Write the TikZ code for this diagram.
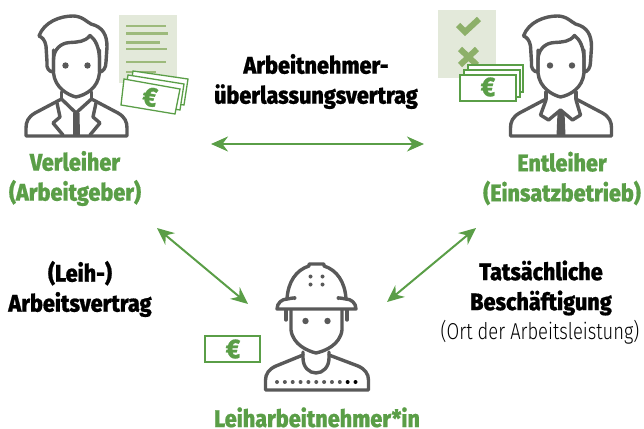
\documentclass[tikz,border=0pt]{standalone}
\usepackage{fontspec}
\setmainfont{Fira Sans}[FakeStretch=0.9,BoldFont={Fira Sans ExtraBold},BoldFeatures={FakeStretch=0.9,FakeBold=0.7}]
\newfontfamily\lightcond{Fira Sans Light}[FakeStretch=0.8]
\usetikzlibrary{arrows.meta}
\definecolor{grn}{HTML}{5A9E47}
\definecolor{gry}{HTML}{595959}
\definecolor{pale}{HTML}{E3E9DA}
\definecolor{mid}{HTML}{9DBA7C}
\definecolor{markcol}{HTML}{8DB069}
\tikzset{
  ln/.style={draw=gry,line width=3.4pt,line join=round,line cap=round},
  billbox/.style={draw=grn,line width=1.3pt,fill=white},
  arr/.style={draw=grn,line width=2pt,{Stealth[length=17pt,width=15pt]}-{Stealth[length=17pt,width=15pt]}},
  lab/.style={font=\fontsize{24}{30}\selectfont\bfseries,align=center,text=black,inner sep=0pt},
  glab/.style={lab,text=grn},
  euro/.style={font=\fontsize{27}{27}\selectfont\bfseries,text=grn,inner sep=0pt},
  doclines/.style={draw=mid,line width=2.8pt},
  eye/.style={fill=gry,draw=none}
}
\newcommand{\headface}{
  \draw[ln] (53.5,50) -- (53.5,73) .. controls (55,88) and (68,95) .. (76,97) .. controls (86,95) and (98,88) .. (99.5,73) -- (99.5,50);
  \fill[eye] (65.5,65.5) circle (3.2pt) (87.5,65.5) circle (3.2pt);
}
\newcommand{\hairbody}{
  \draw[ln] (39,36) .. controls (44,22) and (60,16) .. (73,16) .. controls (82,16) and (87,22) .. (91,24) .. controls (103,27) and (107,35) .. (107,47) -- (106,62)
     .. controls (106,68) and (103,72) .. (99.5,72) -- (99.5,58) .. controls (99,48) and (96,40) .. (90,35.5) .. controls (85,42) and (78,42) .. (70,42.5) .. controls (60,43) and (53.5,50) .. (53.5,60) -- (53.5,72)
     .. controls (49,72) and (46,68) .. (47,62) -- (46,46) .. controls (45,40) and (42,37) .. (39,36) -- cycle;
  \draw[ln] (61.5,92) -- (61.5,99) (91.5,92) -- (91.5,99);
  \draw[ln] (61.5,99) -- (35,113) .. controls (28,117) and (26,122) .. (26,128) -- (26,136) -- (127,136) -- (127,128) .. controls (127,122) and (125,117) .. (118,113) -- (91.5,99);
}
\begin{document}
\begin{tikzpicture}[x=1pt,y=-1pt]
\useasboundingbox (0,0) rectangle (644,428);
% Left person
\begin{scope}
  \headface \hairbody
  \draw[ln] (61.5,99) -- (76,113) -- (91.5,99);
  \draw[ln] (57,103) -- (60,117) -- (53,123) -- (63,135);
  \draw[ln] (96,103) -- (93,117) -- (100,123) -- (90,135);
  \fill[gry] (73,113) -- (79.5,113) -- (80,136) -- (73,136) -- cycle;
\end{scope}
% Left document
\fill[pale] (119,15) rectangle (177,83);
\draw[doclines] (126,26) -- (166,26) (126,33.5) -- (168,33.5) (126,42.5) -- (160,42.5) (126,49) -- (167,49) (126,62) -- (166,62) (126,72) -- (156,72);
% Left bills
\draw[billbox] (133,71) -- (188,79) -- (184,105) -- (129,97) -- cycle;
\draw[billbox] (128,75) -- (184,84) -- (180,110) -- (124,101) -- cycle;
\draw[billbox] (124,79) -- (180,89) -- (175,114) -- (121,105) -- cycle;
\node[euro,rotate=-9] (euroA) at (150,97) {€};
% Right person
\begin{scope}[xshift=484.5pt]
  \headface \hairbody
  \draw[ln,fill=white] (61.5,100) -- (56,115) -- (64,120) -- (76,110) -- (88,120) -- (96,115) -- (91.5,100);
  \fill[gry] (73,112) -- (80,112) -- (81,136) -- (72,136) -- cycle;
\end{scope}
% Right panel
\fill[pale] (438,10) rectangle (496,78);
\draw[markcol,line width=6pt,line join=miter] (458,25) -- (465,32) -- (479,19);
\draw[markcol,line width=6pt] (460,49) -- (477,65) (477,49) -- (460,65);
\draw[billbox] (468,65) rectangle (523,92);
\draw[billbox] (464,70) rectangle (520,97);
\draw[billbox] (460,75) rectangle (516,101);
\node[euro] (euroB) at (488,87) {€};
% Worker
\draw[ln] (291,310) -- (291,330) .. controls (293,345) and (308,351) .. (316,353) .. controls (325,351) and (340,345) .. (342,330) -- (342,310);
\fill[eye] (305.5,321) circle (3.2pt) (327.5,321) circle (3.2pt);
\draw[ln] (286,309) -- (286,320) (347,309) -- (347,320);
\draw[ln,fill=white] (277,309) .. controls (277,303) and (282,299) .. (287,299) .. controls (288,282) and (296,270) .. (309,266) -- (309,264) -- (324,264) -- (324,266) .. controls (337,270) and (345,282) .. (346,299) .. controls (351,299) and (356,303) .. (356,309) -- cycle;
\draw[ln] (287,299) -- (293,298) (340,298) -- (346,299);
\fill[eye] (310.5,276.5) circle (2pt) (322.5,276.5) circle (2pt) (310.5,284.5) circle (2pt) (322.5,284.5) circle (2pt) (294.5,298) circle (2pt) (338.5,298) circle (2pt);
\draw[ln] (303,352) -- (303,358) .. controls (303,367) and (309,373) .. (316,373) .. controls (323,373) and (329,367) .. (329,358) -- (329,352);
\draw[ln] (303,355) -- (276,366) .. controls (269,369) and (265.5,374) .. (265.5,380) -- (265.5,390) -- (368.5,390) -- (368.5,380) .. controls (368.5,374) and (365,369) .. (358,366) -- (329,355);
\foreach \xx in {0,...,8} \fill[eye] (277+\xx*7.85,382) circle (2pt);
\foreach \xx in {9,10} \fill[black] (277+\xx*7.85,382) circle (2pt);
% Worker bill
\draw[billbox] (205,336) rectangle (260,362);
\node[euro] (euroC) at (233,349) {€};
% Labels
\node[lab] (vertrag) at (316,81.5) {Arbeitnehmer-\\überlassungsvertrag};
\node[glab] (verleiher) at (75,178.5) {Verleiher\\(Arbeitgeber)};
\node[glab] (entleiher) at (562,178.5) {Entleiher\\(Einsatzbetrieb)};
\node[lab] (arbeits) at (80,289) {(Leih-)\\Arbeitsvertrag};
\node[lab] (taetig) at (541,288) {Tatsächliche\\Beschäftigung};
\node[font=\fontsize{23}{24}\selectfont\lightcond,inner sep=0pt] (ort) at (540,332) {(Ort der Arbeitsleistung)};
\node[text=grn,font=\fontsize{24}{24}\selectfont\bfseries,inner sep=0pt,anchor=base] (leih) at (317,427) {Leiharbeitnehmer*in};
% Connectors
\coordinate (a1) at (211,144); \coordinate (a2) at (424,144);
\coordinate (b1) at (157,228); \coordinate (b2) at (248,304);
\coordinate (c1) at (476,228); \coordinate (c2) at (387,302);
\draw[arr] (a1) -- (a2);
\draw[arr] (b1) -- (b2);
\draw[arr] (c1) -- (c2);
\end{tikzpicture}
\end{document}
